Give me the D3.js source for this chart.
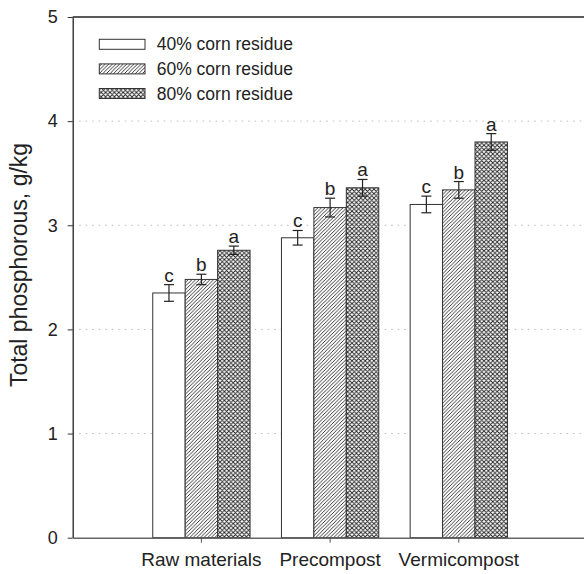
<!DOCTYPE html>
<html>
<head>
    <meta charset="utf-8">
    <title>Total phosphorous</title>
    <script src="https://cdn.jsdelivr.net/npm/d3@7/dist/d3.min.js"></script>
    <style>
        body { margin: 0; background: #fff; }
        text { font-family: Arial, "Liberation Sans", Helvetica, sans-serif; fill: #222; }
    </style>
</head>
<body>
<script>
    var categories = ['Raw materials', 'Precompost', 'Vermicompost'];
    var series = ['40% corn residue', '60% corn residue', '80% corn residue'];
    var values40 = [2.35, 2.88, 3.20];
    var values60 = [2.48, 3.17, 3.34];
    var values80 = [2.76, 3.36, 3.80];
    var err40 = [0.08, 0.07, 0.08];
    var err60 = [0.05, 0.09, 0.08];
    var err80 = [0.04, 0.08, 0.08];
    var letters = ['c', 'b', 'a'];
    var yTicks = [0, 1, 2, 3, 4, 5];

    var width = 584, height = 574;
    var svg = d3.select('body').append('svg').attr('width', width).attr('height', height);

    var defs = svg.append('defs');
    // diagonal hatch
    var hatch = defs.append('pattern').attr('id', 'hatch')
            .attr('patternUnits', 'userSpaceOnUse').attr('width', 3.6).attr('height', 3.6);
    hatch.append('rect').attr('width', 3.6).attr('height', 3.6).attr('fill', '#fff');
    hatch.append('path').attr('d', 'M-0.9,0.9 l1.8,-1.8 M0,3.6 l3.6,-3.6 M2.7,4.5 l1.8,-1.8')
            .attr('stroke', '#222').attr('stroke-width', 0.9);
    // cross hatch
    var cross = defs.append('pattern').attr('id', 'cross')
            .attr('patternUnits', 'userSpaceOnUse').attr('width', 4.4).attr('height', 4.4);
    cross.append('rect').attr('width', 4.4).attr('height', 4.4).attr('fill', '#fff');
    cross.append('path').attr('d', 'M-1.1,1.1 l2.2,-2.2 M0,4.4 l4.4,-4.4 M3.3,5.5 l2.2,-2.2 M-1.1,3.3 l2.2,2.2 M0,0 l4.4,4.4 M3.3,-1.1 l2.2,2.2')
            .attr('stroke', '#222').attr('stroke-width', 0.9);

    var fills = ['#fff', 'url(#hatch)', 'url(#cross)'];
    var vals = [values40, values60, values80];
    var errs = [err40, err60, err80];

    var y = d3.scaleLinear().domain([0, 5]).range([537.7, 17]);
    var x0 = d3.scaleBand().domain(categories).range([72.7, 587.5])
            .paddingInner(0.244).paddingOuter(0.622);
    var x1 = d3.scaleBand().domain(series).range([0, x0.bandwidth()]);

    // dotted grid
    svg.append('g').selectAll('line').data([1, 2, 3, 4]).enter().append('line')
            .attr('x1', 72.7).attr('x2', width)
            .attr('y1', function (d) { return y(d); })
            .attr('y2', function (d) { return y(d); })
            .attr('stroke', '#bbb').attr('stroke-width', 1)
            .attr('stroke-dasharray', '1.5,5');

    // build flat table for bars
    var table = [];
    categories.forEach(function (c, i) {
        series.forEach(function (s, j) {
            table.push({cat: c, ser: s, j: j, v: vals[j][i], e: errs[j][i]});
        });
    });

    svg.append('g').selectAll('rect').data(table).enter().append('rect')
            .attr('x', function (d) { return x0(d.cat) + x1(d.ser); })
            .attr('y', function (d) { return y(d.v); })
            .attr('width', x1.bandwidth())
            .attr('height', function (d) { return y(0) - y(d.v); })
            .attr('fill', function (d) { return fills[d.j]; })
            .attr('stroke', '#333').attr('stroke-width', 1);

    // error bars
    var eb = svg.append('g').attr('stroke', '#222').attr('stroke-width', 1.2);
    table.forEach(function (d) {
        var cx = x0(d.cat) + x1(d.ser) + x1.bandwidth() / 2;
        eb.append('line').attr('x1', cx).attr('x2', cx)
                .attr('y1', y(d.v + d.e)).attr('y2', y(d.v - d.e));
        eb.append('line').attr('x1', cx - 5).attr('x2', cx + 5)
                .attr('y1', y(d.v + d.e)).attr('y2', y(d.v + d.e));
        eb.append('line').attr('x1', cx - 5).attr('x2', cx + 5)
                .attr('y1', y(d.v - d.e)).attr('y2', y(d.v - d.e));
    });

    // significance letters
    svg.append('g').selectAll('text').data(table).enter().append('text')
            .attr('x', function (d) { return x0(d.cat) + x1(d.ser) + x1.bandwidth() / 2; })
            .attr('y', function (d) { return y(d.v + d.e) - 3; })
            .attr('text-anchor', 'middle')
            .attr('font-size', 19)
            .text(function (d) { return letters[d.j]; });

    // axes
    var yAxis = svg.append('g').attr('transform', 'translate(72.7,0)')
            .call(d3.axisLeft(y).tickValues(yTicks).tickFormat(d3.format('d'))
                    .tickSize(5).tickSizeOuter(0).tickPadding(10));
    yAxis.selectAll('text').attr('font-size', 18).attr('font-family', null).attr('fill', '#222');
    yAxis.selectAll('line').attr('stroke', '#333');
    yAxis.select('.domain').attr('stroke', '#222').attr('stroke-width', 1.3);

    var xAxis = svg.append('g').attr('transform', 'translate(0,' + y(0) + ')')
            .call(d3.axisBottom(x0).tickSize(5).tickSizeOuter(0).tickPadding(10));
    xAxis.selectAll('text').attr('font-size', 19).attr('font-family', null).attr('fill', '#222');
    xAxis.selectAll('line').attr('stroke', '#555');
    xAxis.select('.domain').attr('stroke', '#666').attr('stroke-width', 1.6);

    // top frame
    svg.append('line').attr('x1', 72.7).attr('x2', width)
            .attr('y1', y(5)).attr('y2', y(5))
            .attr('stroke', '#222').attr('stroke-width', 1.4);

    // y title
    svg.append('text')
            .attr('transform', 'translate(27,265) rotate(-90)')
            .attr('text-anchor', 'middle')
            .attr('font-size', 23)
            .text('Total phosphorous, g/kg');

    // legend
    var legend = svg.append('g');
    series.forEach(function (s, j) {
        var ly = 39.3 + j * 24.6;
        legend.append('rect').attr('x', 99.3).attr('y', ly)
                .attr('width', 45.7).attr('height', 10)
                .attr('fill', fills[j]).attr('stroke', '#333').attr('stroke-width', 1);
        legend.append('text').attr('x', 156.7).attr('y', ly + 5).attr('dy', '0.35em')
                .attr('font-size', 17.5).text(s);
    });
</script>
</body>
</html>
